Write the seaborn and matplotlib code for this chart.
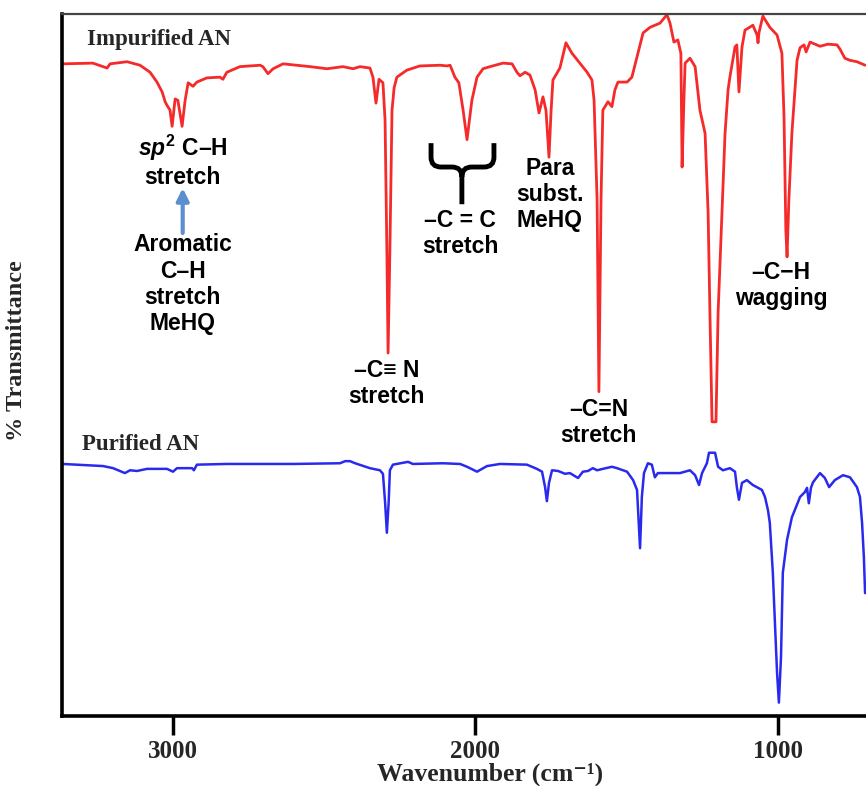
import matplotlib
matplotlib.use("Agg")
import matplotlib.pyplot as plt
from matplotlib.path import Path
from matplotlib.patches import PathPatch
import seaborn as sns

# impurified AN spectrum (wavenumber, %T)
impure_wn = [3364, 3265, 3218, 3208, 3152, 3109, 3076, 3053, 3036, 3026,
             3020, 3010, 3003, 2993, 2984, 2970, 2960, 2950, 2934, 2921,
             2888, 2845, 2835, 2822, 2779, 2712, 2703, 2686, 2669, 2636,
             2547, 2491, 2438, 2405, 2382, 2349, 2339, 2329, 2319, 2306,
             2299, 2293, 2289, 2283, 2276, 2269, 2260, 2227, 2184, 2117,
             2094, 2084, 2068, 2055, 2041, 2028, 2012, 1995, 1975, 1952,
             1909, 1879, 1863, 1853, 1836, 1820, 1803, 1790, 1777, 1767,
             1757, 1750, 1744, 1721, 1701, 1681, 1655, 1631, 1615, 1608,
             1598, 1592, 1585, 1579, 1562, 1549, 1539, 1529, 1499, 1483,
             1466, 1446, 1423, 1390, 1367, 1357, 1344, 1331, 1321, 1317,
             1311, 1307, 1291, 1274, 1258, 1241, 1231, 1225, 1218, 1205,
             1198, 1185, 1175, 1165, 1159, 1142, 1136, 1129, 1119, 1109,
             1083, 1069, 1066, 1063, 1050, 1027, 1003, 987, 980, 974,
             970, 964, 954, 937, 927, 914, 907, 894, 861, 835,
             805, 795, 779, 762, 739, 712]
impure_T = [92.9, 93.0, 92.3, 92.9, 93.2, 92.7, 91.7, 90.3, 88.9, 87.5,
            87.0, 86.3, 84.0, 87.9, 87.7, 84.0, 87.7, 90.2, 89.7, 90.3,
            90.9, 91.0, 90.7, 91.7, 92.5, 92.7, 92.5, 91.5, 92.2, 92.9,
            92.5, 92.2, 92.5, 92.2, 92.5, 92.3, 91.0, 87.3, 90.7, 90.2,
            84.9, 66.4, 51.7, 66.4, 86.3, 89.5, 91.0, 92.0, 92.6, 92.7,
            92.6, 92.7, 91.0, 90.2, 86.3, 82.1, 87.7, 91.0, 92.2, 92.5,
            93.0, 92.9, 91.7, 91.2, 91.7, 91.3, 89.2, 85.9, 88.2, 86.3,
            79.6, 86.3, 90.6, 92.3, 95.9, 94.4, 93.0, 91.7, 90.6, 87.7,
            73.5, 46.2, 73.5, 86.3, 87.5, 86.8, 89.2, 90.3, 90.3, 91.0,
            93.9, 97.3, 98.1, 98.7, 99.9, 98.7, 96.0, 96.3, 94.4, 78.2,
            87.7, 93.0, 93.7, 92.5, 86.3, 83.0, 71.7, 57.4, 41.9, 41.9,
            57.4, 71.7, 83.0, 89.2, 91.0, 95.3, 95.6, 88.9, 95.3, 97.7,
            98.4, 97.0, 95.9, 97.3, 99.7, 98.1, 97.0, 94.4, 85.3, 69.2,
            65.4, 73.5, 83.0, 93.4, 95.2, 95.6, 94.6, 96.0, 95.4, 95.7,
            95.6, 95.0, 93.7, 93.4, 93.2, 92.7]

# purified AN spectrum
pure_wn = [3364, 3231, 3198, 3159, 3142, 3119, 3086, 3020, 3000, 2987,
           2937, 2931, 2921, 2822, 2603, 2448, 2431, 2415, 2398, 2349,
           2316, 2306, 2299, 2293, 2287, 2283, 2273, 2223, 2207, 2108,
           2051, 2028, 1995, 1962, 1919, 1830, 1797, 1780, 1770, 1764,
           1757, 1747, 1727, 1704, 1688, 1661, 1645, 1628, 1612, 1598,
           1579, 1549, 1532, 1499, 1479, 1466, 1456, 1450, 1443, 1430,
           1417, 1407, 1397, 1367, 1324, 1291, 1274, 1261, 1251, 1235,
           1228, 1215, 1208, 1198, 1182, 1159, 1142, 1136, 1129, 1119,
           1103, 1083, 1053, 1043, 1033, 1027, 1017, 1010, 1003, 997,
           990, 984, 970, 954, 927, 911, 904, 898, 891, 884,
           861, 845, 831, 812, 785, 762, 739, 729, 722, 716,
           712]
pure_T = [35.9, 35.6, 35.3, 34.6, 35.0, 34.9, 35.2, 35.2, 34.8, 35.3,
          35.3, 35.0, 35.8, 35.9, 35.9, 36.0, 36.3, 36.3, 36.0, 35.3,
          35.0, 34.5, 30.5, 26.1, 30.5, 35.0, 35.8, 36.2, 35.9, 36.0,
          35.9, 35.5, 34.8, 35.6, 35.9, 35.8, 35.2, 34.8, 32.6, 30.6,
          33.2, 35.0, 34.9, 34.5, 34.6, 33.9, 34.8, 34.9, 35.3, 35.0,
          35.2, 35.5, 35.3, 34.8, 33.6, 32.2, 23.9, 31.2, 34.6, 36.0,
          35.8, 34.0, 34.6, 34.6, 34.6, 35.0, 34.3, 32.9, 34.6, 36.0,
          37.5, 37.5, 37.5, 35.5, 35.0, 35.3, 34.8, 32.6, 30.8, 33.2,
          33.6, 32.9, 32.2, 31.2, 29.3, 27.5, 20.4, 13.2, 6.1, 1.9,
          8.4, 20.4, 25.1, 28.3, 31.2, 31.9, 32.5, 30.3, 32.5, 33.3,
          34.6, 33.9, 32.6, 33.6, 34.3, 34.0, 32.6, 31.2, 27.5, 22.6,
          17.5]

x_ticks = [3000, 2000, 1000]

# peak labels: text, wavenumber, %T (centre of the block)
peak_labels = [
    ("$sp^2$ C\u2013H\nstretch", 2968, 79.1),
    ("Aromatic\nC\u2013H\nstretch\nMeHQ", 2968, 61.5),
    ("\u2013C\u2261 N\nstretch", 2293, 47.4),
    ("\u2013C = C\nstretch", 2051, 68.7),
    ("Para\nsubst.\nMeHQ", 1754, 74.3),
    ("\u2013C=N\nstretch", 1592, 41.8),
    ("\u2013C\u2212H\nwagging", 990, 61.3),
]

sns.set_theme(style="white")
plt.rcParams["mathtext.fontset"] = "custom"
plt.rcParams["mathtext.rm"] = "Liberation Sans:bold"
plt.rcParams["mathtext.it"] = "Liberation Sans:italic:bold"
serif = ["Liberation Serif", "DejaVu Serif"]
sans = ["Liberation Sans", "DejaVu Sans"]

fig = plt.figure(figsize=(8.66, 7.86), dpi=100)
ax = fig.add_axes([0.0716, 0.0891, 0.9284, 0.8931])

sns.lineplot(x=impure_wn, y=impure_T, sort=False, estimator=None,
             color="#f52a2a", lw=2.0, ax=ax)
sns.lineplot(x=pure_wn, y=pure_T, sort=False, estimator=None,
             color="#2a2aee", lw=1.8, ax=ax)

ax.set_xlim(3367, 709)
ax.set_ylim(0, 100)
ax.set_xticks(x_ticks)
ax.set_xticklabels([str(t) for t in x_ticks], fontsize=18, fontweight="bold",
                   family=serif)
ax.set_yticks([])
ax.tick_params(axis="x", direction="out", length=14, width=2.5, pad=3,
               color="black", bottom=True)

for side in ["left", "bottom"]:
    ax.spines[side].set_color("black")
    ax.spines[side].set_linewidth(2.6)
ax.spines["top"].set_color("#444444")
ax.spines["top"].set_linewidth(1.6)
ax.spines["right"].set_visible(False)

ax.set_xlabel("Wavenumber (cm\u207b\u00b9)", fontsize=18.5, fontweight="bold",
              family=serif)
ax.xaxis.set_label_coords(0.532, -0.066)
ax.set_ylabel("% Transmittance", fontsize=17.5, fontweight="bold", family=serif)
ax.yaxis.set_label_coords(-0.044, 0.52)

ax.text(3284, 96.3, "Impurified AN", fontsize=16.5, fontweight="bold",
        family=serif, ha="left", va="center")
ax.text(3301, 38.7, "Purified AN", fontsize=16.5, fontweight="bold",
        family=serif, ha="left", va="center")

for txt, wn, t in peak_labels:
    ax.text(wn, t, txt, fontsize=16.5, fontweight="bold", family=sans,
            ha="center", va="center", linespacing=1.18, color="black")

# blue arrow under the sp2 label
ax.annotate("", xy=(2968, 75.2), xytext=(2968, 68.8),
            arrowprops=dict(arrowstyle="-|>", color="#5b8fd0", lw=3,
                            mutation_scale=18, shrinkA=0, shrinkB=0))

# curly brace over the C=C band
brace = Path(
    [(2147, 81.6), (2147, 79.6), (2147, 78.2), (2114, 78.2), (2078, 78.2),
     (2045, 78.2), (2045, 76.8), (2045, 72.9),
     (1939, 81.6), (1939, 79.6), (1939, 78.2), (1972, 78.2), (2012, 78.2),
     (2045, 78.2), (2045, 76.8)],
    [Path.MOVETO, Path.LINETO, Path.CURVE3, Path.CURVE3, Path.LINETO,
     Path.CURVE3, Path.CURVE3, Path.LINETO,
     Path.MOVETO, Path.LINETO, Path.CURVE3, Path.CURVE3, Path.LINETO,
     Path.CURVE3, Path.CURVE3])
ax.add_patch(PathPatch(brace, fill=False, lw=3.5, color="black",
                       capstyle="butt"))

fig.savefig("out.png", dpi=100)
